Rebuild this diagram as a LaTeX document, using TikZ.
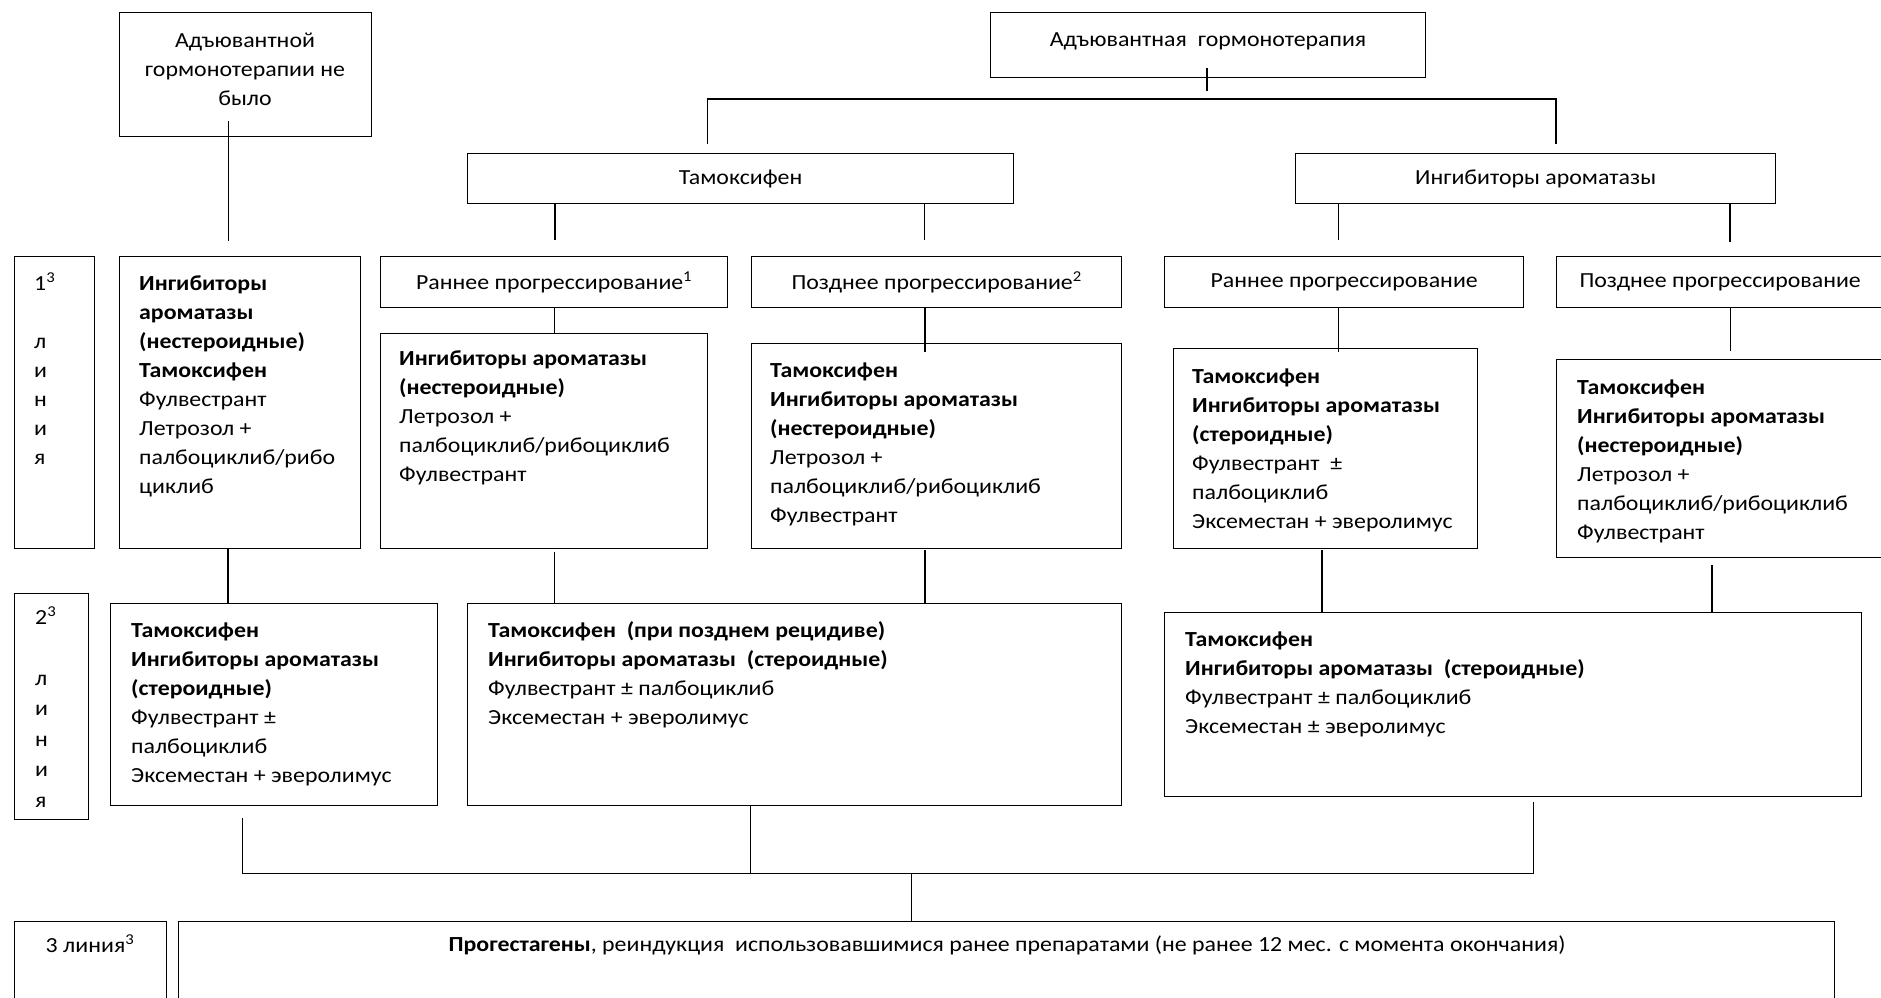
\documentclass[tikz,border=0pt]{standalone}
\usepackage{fontspec}
\setmainfont{Carlito}[FakeStretch=1.11]
\newcommand\fs{\fontsize{21.5}{29}\selectfont}
\newcommand\fsb{\fontsize{21.5}{30.5}\selectfont}
\newcommand\st{\rule{0pt}{18pt}}
\newcommand\Bx[6][]{\node[boxst, minimum width={(#5-#3)*1pt}, minimum height={(#6-#4)*1pt}] (#2) at (#3,#4) {#1};}
\begin{document}
\begin{tikzpicture}[x=1pt,y=-1pt,
  boxst/.style={draw, line width=1.3pt, inner sep=0pt, anchor=north west, font=\fs, align=center},
  txt/.style={inner sep=0pt, anchor=north west, align=left, font=\fs},
  ctxt/.style={inner sep=0pt, anchor=north, align=center, font=\fs},
  ln/.style={line width=1.2pt}]
\useasboundingbox (0,0) rectangle (1881,997);
\fill[white] (0,0) rectangle (1881,997);
% boxes
\Bx{A}{119}{12}{371}{136}
\Bx{Adj}{990}{12}{1425}{77}
\Bx[Тамоксифен]{Tam}{467}{153}{1013}{203}
\Bx[Ингибиторы ароматазы]{AI}{1295}{153}{1775}{203}
\Bx{L1}{14}{256}{94}{548}
\Bx{B1}{119}{256}{360}{548}
\Bx[Раннее прогрессирование\textsuperscript{1}]{H1}{380}{256}{727}{307}
\Bx[Позднее прогрессирование\textsuperscript{2}]{H2}{751}{256}{1121}{307}
\Bx[Раннее прогрессирование]{H3}{1164}{256}{1523}{307}
\Bx[Позднее прогрессирование]{H4}{1556}{256}{1883}{307}
\Bx{B2}{380}{333}{707}{548}
\Bx{C2}{751}{343}{1121}{548}
\Bx{D2}{1173}{348}{1477}{548}
\Bx{E2}{1556}{359}{1883}{557}
\Bx{L2}{14}{593}{88}{819}
\Bx{B3}{110}{603}{437}{805}
\Bx{F}{467}{603}{1121}{805}
\Bx{G}{1164}{612}{1861}{796}
\Bx{L3}{14}{921}{166}{1010}
\Bx{M}{178}{921}{1834}{1010}
% texts
\node[ctxt] (tA) at (245,29) {\st Адъювантной\\гормонотерапии не\\было};
\node[ctxt] (tAdj) at (1208,28) {\st Адъювантная\ \ гормонотерапия};
\node[txt] (tL1) at (34,272) {\st 1\textsuperscript{3}\\ \\л\\и\\н\\и\\я};
\node[txt, font=\fsb] (tL2) at (35,606) {\st 2\textsuperscript{3}\\ \\л\\и\\н\\и\\я};
\node[txt] (tB1) at (139,272) {\st\textbf{Ингибиторы}\\\textbf{ароматазы}\\\textbf{(нестероидные)}\\\textbf{Тамоксифен}\\Фулвестрант\\Летрозол +\\палбоциклиб/рибо\\циклиб};
\node[txt] (tB2) at (399,347) {\st\textbf{Ингибиторы ароматазы}\\\textbf{(нестероидные)}\\Летрозол +\\палбоциклиб/рибоциклиб\\Фулвестрант};
\node[txt] (tC2) at (770,359) {\st\textbf{Тамоксифен}\\\textbf{Ингибиторы ароматазы}\\\textbf{(нестероидные)}\\Летрозол +\\палбоциклиб/рибоциклиб\\Фулвестрант};
\node[txt] (tD2) at (1192,365) {\st\textbf{Тамоксифен}\\\textbf{Ингибиторы ароматазы}\\\textbf{(стероидные)}\\Фулвестрант\ \ ±\\палбоциклиб\\Эксеместан + эверолимус};
\node[txt] (tE2) at (1577,376) {\st\textbf{Тамоксифен}\\\textbf{Ингибиторы ароматазы}\\\textbf{(нестероидные)}\\Летрозол +\\палбоциклиб/рибоциклиб\\Фулвестрант};
\node[txt] (tB3) at (131,619) {\st\textbf{Тамоксифен}\\\textbf{Ингибиторы ароматазы}\\\textbf{(стероидные)}\\Фулвестрант ±\\палбоциклиб\\Эксеместан + эверолимус};
\node[txt] (tF) at (488,619) {\st\textbf{Тамоксифен\ \ (при позднем рецидиве)}\\\textbf{Ингибиторы ароматазы\ \ (стероидные)}\\Фулвестрант ± палбоциклиб\\Эксеместан + эверолимус};
\node[txt] (tG) at (1185,628) {\st\textbf{Тамоксифен}\\\textbf{Ингибиторы ароматазы\ \ (стероидные)}\\Фулвестрант ± палбоциклиб\\Эксеместан ± эверолимус};
\node[ctxt] (tL3) at (90,934) {\st 3 линия\textsuperscript{3}};
\node[ctxt] (tM) at (1007,933) {\st\textbf{Прогестагены}, реиндукция\ \ использовавшимися ранее препаратами (не ранее 12 мес. с момента окончания)};
% connector ends
\coordinate (a1) at (228.6,121); \coordinate (a2) at (228.6,241);
\coordinate (d1) at (1207,68); \coordinate (d2) at (1207,91);
\coordinate (hl) at (707.5,99); \coordinate (hr) at (1556,99);
\coordinate (hl2) at (707.5,144); \coordinate (hr2) at (1556,144);
\coordinate (t1) at (555,240); \coordinate (t2) at (924.5,240);
\coordinate (i1) at (1338.7,240); \coordinate (i2) at (1730,242);
\coordinate (e1) at (1730.7,351);
\coordinate (b1) at (228,548);
\coordinate (b2) at (554.7,551.7);
\coordinate (c2) at (925,550);
\coordinate (dd) at (1322,550);
\coordinate (ee) at (1712,565);
\coordinate (f1) at (242.4,818); \coordinate (f2) at (750.7,805); \coordinate (f3) at (1533.8,802);
\coordinate (hb1) at (242.4,873.3); \coordinate (hb2) at (1533.8,873.3); \coordinate (hm) at (911.7,873.3);
% connectors
\draw[ln] (a1) -- (a2);
\draw[ln] (d1) -- (d2);
\draw[ln] (hl2) -- (hl) -- (hr) -- (hr2);
\draw[ln] (t1 |- Tam.south) -- (t1);
\draw[ln] (t2 |- Tam.south) -- (t2);
\draw[ln] (i1 |- AI.south) -- (i1);
\draw[ln] (i2 |- AI.south) -- (i2);
\draw[ln] (b2 |- H1.south) -- (b2 |- B2.north);
\draw[ln] (c2 |- H2.south) -- ++(0,44);
\draw[ln] (i1 |- H3.south) -- ++(0,44);
\draw[ln] (e1 |- H4.south) -- (e1);
\draw[ln] (b1) -- (b1 |- B3.north);
\draw[ln] (b2) -- (b2 |- F.north);
\draw[ln] (c2) -- (c2 |- F.north);
\draw[ln] (dd) -- (dd |- G.north);
\draw[ln] (ee) -- (ee |- G.north);
\draw[ln] (f1) -- (hb1) -- (hb2) -- (f3);
\draw[ln] (f2) -- (f2 |- hb1);
\draw[ln] (hm) -- (hm |- M.north);
\end{tikzpicture}
\end{document}
